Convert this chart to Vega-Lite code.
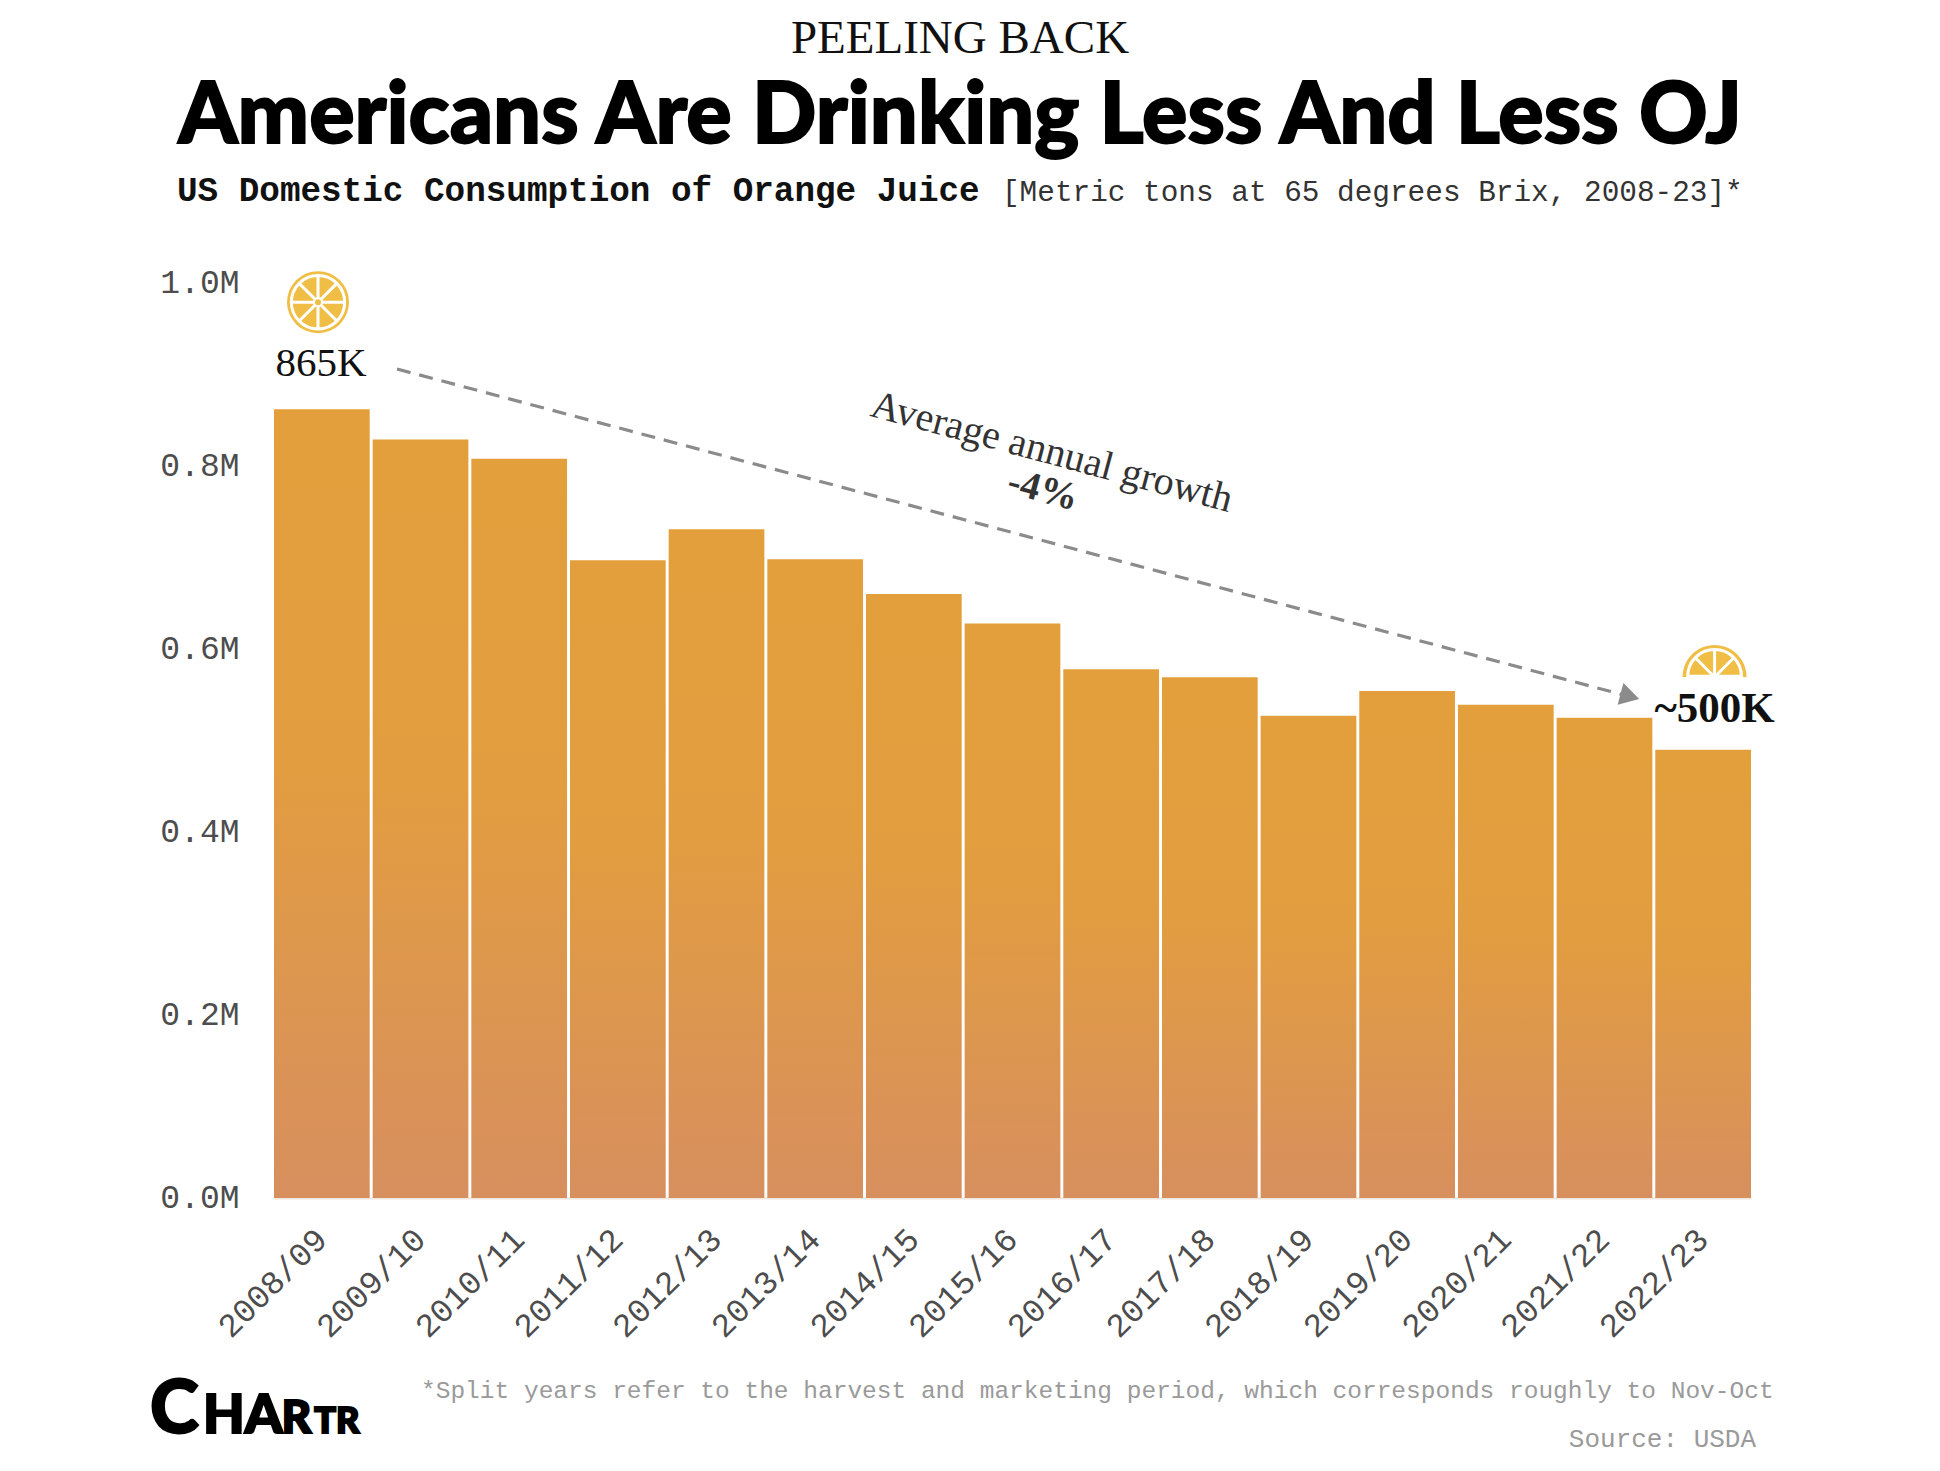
{
  "$schema": "https://vega.github.io/schema/vega-lite/v6.json",
  "description": "US domestic consumption of orange juice by marketing year, 2008-23.",
  "autosize": {"type": "none"},
  "padding": {"left": 274, "top": 283, "right": 189, "bottom": 273},
  "width": 1477,
  "height": 915,
  "background": "white",
  "config": {"view": {"stroke": null}},
  "resolve": {"scale": {"x": "independent", "y": "independent"}, "axis": {"x": "independent", "y": "independent"}},
  "layer": [
    {
      "data": {
        "values": [
          {"season": "2008/09", "consumption": 0.862},
          {"season": "2009/10", "consumption": 0.829},
          {"season": "2010/11", "consumption": 0.808},
          {"season": "2011/12", "consumption": 0.697},
          {"season": "2012/13", "consumption": 0.731},
          {"season": "2013/14", "consumption": 0.698},
          {"season": "2014/15", "consumption": 0.66},
          {"season": "2015/16", "consumption": 0.628},
          {"season": "2016/17", "consumption": 0.578},
          {"season": "2017/18", "consumption": 0.569},
          {"season": "2018/19", "consumption": 0.527},
          {"season": "2019/20", "consumption": 0.554},
          {"season": "2020/21", "consumption": 0.539},
          {"season": "2021/22", "consumption": 0.525},
          {"season": "2022/23", "consumption": 0.49}
        ]
      },
      "mark": {
        "type": "bar",
        "color": {
          "gradient": "linear",
          "x1": 0, "y1": 0, "x2": 0, "y2": 1,
          "stops": [
            {"offset": 0, "color": "#E39F3B"},
            {"offset": 0.45, "color": "#E29D40"},
            {"offset": 1, "color": "#D78F5E"}
          ]
        }
      },
      "encoding": {
        "x": {
          "field": "season",
          "type": "nominal",
          "sort": null,
          "scale": {"paddingInner": 0.03, "paddingOuter": 0},
          "axis": {
            "title": null,
            "ticks": false,
            "domainColor": "#efe6dc",
            "domainWidth": 2,
            "labelFont": "Liberation Mono",
            "labelFontSize": 33,
            "labelColor": "#4d4d4d",
            "labelAngle": -45,
            "labelAlign": "right",
            "labelBaseline": "middle",
            "labelOffset": 0,
            "labelPadding": 36
          }
        },
        "y": {
          "field": "consumption",
          "type": "quantitative",
          "scale": {"domain": [0, 1], "nice": false},
          "axis": {
            "title": null,
            "values": [0, 0.2, 0.4, 0.6, 0.8, 1],
            "labelExpr": "format(datum.value, '.1f') + 'M'",
            "ticks": false,
            "domain": false,
            "grid": false,
            "labelFont": "Liberation Mono",
            "labelFontSize": 33,
            "labelColor": "#4d4d4d",
            "labelPadding": 35,
            "labelOffset": -1
          }
        }
      }
    },
    {
      "encoding": {
        "x": {"field": "x", "type": "quantitative", "scale": {"domain": [0, 15], "nice": false, "zero": false}, "axis": null},
        "y": {"field": "y", "type": "quantitative", "scale": {"domain": [0, 1], "nice": false}, "axis": null}
      },
      "layer": [
        {
          "data": {"values": [{"x": 1.249, "y": 0.906}, {"x": 13.7, "y": 0.55}]},
          "mark": {"type": "line", "color": "#8b8b8b", "strokeWidth": 3.2, "strokeDash": [14, 9]}
        },
        {
          "data": {"values": [{"x": 13.77, "y": 0.5482}]},
          "mark": {"type": "point", "shape": "triangle-right", "filled": true, "color": "#8b8b8b", "size": 500, "angle": 15, "opacity": 1}
        },
        {
          "data": {"values": [{"x": 0.447, "y": 0.979}]},
          "mark": {"type": "point", "shape": "circle", "filled": true, "color": "#F0BE45", "size": 3844, "opacity": 1}
        },
        {
          "data": {"values": [{"x": 0.447, "y": 0.979}]},
          "mark": {
            "type": "point",
            "shape": "M-.86,0A.86,.86 0 1,1 .86,0A.86,.86 0 1,1 -.86,0Z M0,-.86V.86 M-.86,0H.86 M-.608,-.608L.608,.608 M.608,-.608L-.608,.608",
            "filled": false,
            "color": "#FFFFFF",
            "strokeWidth": 3,
            "size": 3844,
            "opacity": 1
          }
        },
        {
          "data": {"values": [{"x": 0.447, "y": 0.979}]},
          "mark": {"type": "point", "shape": "circle", "filled": true, "color": "#F0BE45", "stroke": "#FFFFFF", "strokeWidth": 2, "size": 64, "opacity": 1}
        },
        {
          "data": {"values": [{"x": 14.63, "y": 0.5694}]},
          "mark": {
            "type": "point",
            "shape": "M-1,0A1,1 0 0,1 1,0Z",
            "filled": true,
            "color": "#F0BE45",
            "size": 4096,
            "opacity": 1
          }
        },
        {
          "data": {"values": [{"x": 14.63, "y": 0.5694}]},
          "mark": {
            "type": "point",
            "shape": "M-.84,-.02A.84,.84 0 0,1 .84,-.02Z M0,0V-.84 M0,0L-.594,-.594 M0,0L.594,-.594",
            "filled": false,
            "color": "#FFFFFF",
            "strokeWidth": 3,
            "size": 4096,
            "opacity": 1
          }
        },
        {
          "data": {"values": [{"label": "PEELING BACK", "x": 6.967, "y": 1.2514}]},
          "mark": {"type": "text", "font": "Liberation Serif", "fontSize": 47, "color": "#111111", "align": "center", "baseline": "alphabetic"},
          "encoding": {"text": {"field": "label"}}
        },
        {
          "data": {"values": [{"label": "Americans Are Drinking Less And Less OJ", "x": 6.967, "y": 1.153}]},
          "mark": {"type": "text", "font": "Lato", "fontWeight": 900, "fontSize": 84.8, "color": "#000000", "stroke": "#000000", "strokeWidth": 1.8, "align": "center", "baseline": "alphabetic"},
          "encoding": {"text": {"field": "label"}}
        },
        {
          "data": {"values": [{"label": "US Domestic Consumption of Orange Juice", "x": -0.985, "y": 1.0896}]},
          "mark": {"type": "text", "font": "Liberation Mono", "fontWeight": "bold", "fontSize": 34.3, "color": "#111111", "align": "left", "baseline": "alphabetic"},
          "encoding": {"text": {"field": "label"}}
        },
        {
          "data": {"values": [{"label": "[Metric tons at 65 degrees Brix, 2008-23]*", "x": 7.393, "y": 1.0896}]},
          "mark": {"type": "text", "font": "Liberation Mono", "fontSize": 29.4, "color": "#333333", "align": "left", "baseline": "alphabetic"},
          "encoding": {"text": {"field": "label"}}
        },
        {
          "data": {"values": [{"label": "865K", "x": 0.477, "y": 0.898}]},
          "mark": {"type": "text", "font": "Liberation Serif", "fontSize": 41, "color": "#111111", "align": "center", "baseline": "alphabetic"},
          "encoding": {"text": {"field": "label"}}
        },
        {
          "data": {"values": [{"label": "~500K", "x": 14.63, "y": 0.52}]},
          "mark": {"type": "text", "font": "Liberation Serif", "fontWeight": "bold", "fontSize": 43, "color": "#111111", "align": "center", "baseline": "alphabetic"},
          "encoding": {"text": {"field": "label"}}
        },
        {
          "data": {"values": [{"label": "Average annual growth", "x": 7.9, "y": 0.815}]},
          "mark": {"type": "text", "font": "Liberation Serif", "fontSize": 40, "color": "#333333", "align": "center", "baseline": "middle", "angle": 15},
          "encoding": {"text": {"field": "label"}}
        },
        {
          "data": {"values": [{"label": "-4%", "x": 7.81, "y": 0.774}]},
          "mark": {"type": "text", "font": "Liberation Serif", "fontWeight": "bold", "fontSize": 39, "color": "#333333", "align": "center", "baseline": "middle", "angle": 15},
          "encoding": {"text": {"field": "label"}}
        },
        {
          "data": {"values": [{"label": "*Split years refer to the harvest and marketing period, which corresponds roughly to Nov-Oct", "x": 1.493, "y": -0.211}]},
          "mark": {"type": "text", "font": "Liberation Mono", "fontSize": 24.5, "color": "#9a9a9a", "align": "left", "baseline": "middle"},
          "encoding": {"text": {"field": "label"}}
        },
        {
          "data": {"values": [{"label": "Source: USDA", "x": 13.15, "y": -0.2634}]},
          "mark": {"type": "text", "font": "Liberation Mono", "fontSize": 26, "color": "#9a9a9a", "align": "left", "baseline": "middle"},
          "encoding": {"text": {"field": "label"}}
        },
        {
          "data": {"values": [{"label": "C", "x": -1.26, "y": -0.257}]},
          "mark": {"type": "text", "font": "Lato", "fontWeight": 900, "fontSize": 74, "color": "#000000", "stroke": "#000000", "strokeWidth": 2, "align": "left", "baseline": "alphabetic"},
          "encoding": {"text": {"field": "label"}}
        },
        {
          "data": {"values": [{"label": "HA", "x": -0.72, "y": -0.257}]},
          "mark": {"type": "text", "font": "Lato", "fontWeight": 900, "fontSize": 54, "color": "#000000", "stroke": "#000000", "strokeWidth": 2, "align": "left", "baseline": "alphabetic"},
          "encoding": {"text": {"field": "label"}}
        },
        {
          "data": {"values": [{"label": "R", "x": 0.075, "y": -0.257}]},
          "mark": {"type": "text", "font": "Lato", "fontWeight": 900, "fontSize": 46, "color": "#000000", "stroke": "#000000", "strokeWidth": 2, "align": "left", "baseline": "alphabetic"},
          "encoding": {"text": {"field": "label"}}
        },
        {
          "data": {"values": [{"label": "TR", "x": 0.41, "y": -0.257}]},
          "mark": {"type": "text", "font": "Lato", "fontWeight": 900, "fontSize": 36, "color": "#000000", "stroke": "#000000", "strokeWidth": 2, "align": "left", "baseline": "alphabetic"},
          "encoding": {"text": {"field": "label"}}
        }
      ]
    }
  ]
}
